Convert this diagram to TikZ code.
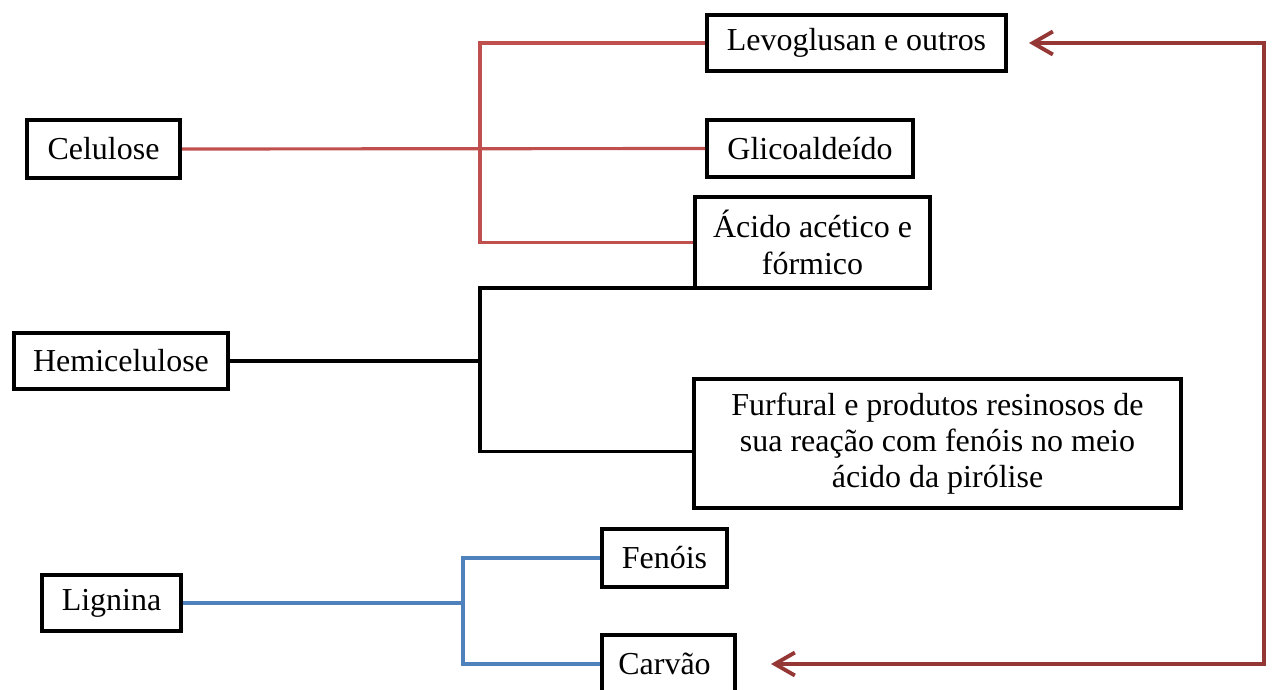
\documentclass[tikz,border=0pt]{standalone}
\usepackage{fontspec}
\setmainfont{Liberation Serif}
\usetikzlibrary{arrows.meta}
\definecolor{vermelho}{HTML}{C0504D}
\definecolor{azul}{HTML}{4F81BD}
\definecolor{vinho}{HTML}{953735}

\begin{document}
\begin{tikzpicture}[x=0.02cm, y=-0.02cm,
    caixa/.style={draw, line width=2.3pt, align=center, inner sep=0pt,
      font=\fontsize{18.2}{20.6}\selectfont},
    ramo/.style={line width=1.8pt},
    retorno/.style={vinho, line width=2.2pt,
      {Straight Barb[length=0.4cm, width=0.46cm]}-{Straight Barb[length=0.4cm, width=0.46cm]},
      shorten <=0.42cm, shorten >=0.68cm}]
    \useasboundingbox (0,0) rectangle (1272,690);

    \foreach \x/\y/\w/\h/\nome/\texto in {
        103.5/149/3.06/1.16/cel/{Celulose},
        121/361/4.28/1.12/hemi/{Hemicelulose},
        111.5/603/2.78/1.12/lig/{Lignina},
        856.5/43/5.98/1.12/levo/{Levoglusan e outros},
        810/148.5/4.12/1.14/glic/{Glicoaldeído},
        812.5/242.5/4.7/1.82/acid/{Ácido acético e\\ fórmico},
        937.5/443.5/9.74/2.58/furf/{Furfural e produtos resinosos de\\ sua reação com fenóis no meio\\ ácido da pirólise},
        664.5/558/2.5/1.16/fen/{Fenóis},
        668.5/664/2.66/1.16/carv/{Carvão}
    }{
        \node[caixa, minimum width=\w cm, minimum height=\h cm] (\nome) at (\x,\y) {\texto};
    }

    \coordinate (rj) at (480,149);
    \coordinate (hj) at (480,361);
    \coordinate (lj) at (463,603);
    \coordinate (rt) at (1264,43);
    \coordinate (rb) at (1264,664);

    \draw[ramo, vermelho] (cel.east) -- (glic.west);
    \draw[ramo, vermelho] (levo.west) -| (rj) |- (acid.west);

    \draw[ramo] (hemi.east) -- (hj);
    \draw[ramo] ([yshift=0.04cm]acid.south west) -| (hj) |- ([yshift=-0.16cm]furf.west);

    \draw[ramo, azul] (lig.east) -- (lj);
    \draw[ramo, azul] (fen.west) -| (lj) |- (carv.west);

    \draw[retorno] (levo.east) -- (rt) -- (rb) -- (carv.east);
\end{tikzpicture}
\end{document}
